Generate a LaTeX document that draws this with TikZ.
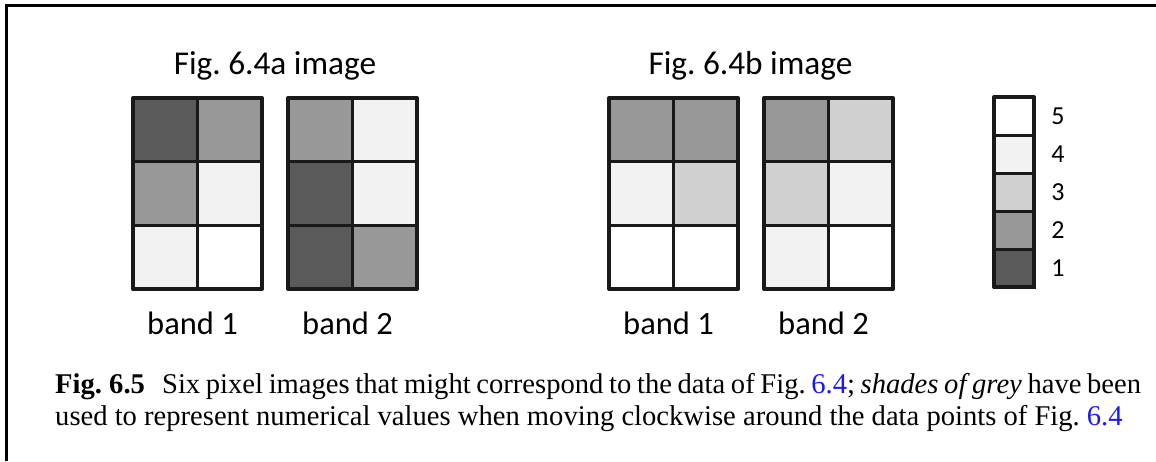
\documentclass[tikz,border=0pt]{standalone}
\usepackage{fontspec}
\setmainfont{Liberation Serif}
\newfontfamily\lblfont{Carlito}
\usepackage{tikz}
\definecolor{shadeA}{HTML}{5A5A5A}
\definecolor{shadeB}{HTML}{989898}
\definecolor{shadeC}{HTML}{CFD0CF}
\definecolor{shadeD}{HTML}{F2F2F2}
\definecolor{shadeE}{HTML}{FFFFFF}
\definecolor{linkblue}{HTML}{1A1AF0}
\frenchspacing

\begin{document}
\begin{tikzpicture}[x=1pt,y=-1pt,
  cell/.style={draw=black!90,line width=3pt},
  frame/.style={draw=black!90,line width=4pt,line join=round},
  title/.style={font=\lblfont\fontsize{33.3}{38}\selectfont,anchor=base},
  band/.style={font=\lblfont\fontsize{32.5}{38}\selectfont,anchor=base},
  value/.style={font=\lblfont\fontsize{26}{30}\selectfont}]
\useasboundingbox (0,0) rectangle (1156,461);
% outline
\draw[line width=3pt] (6,461) -- (6,5) -- (1156,5);
% pixel grids: x offset / row-wise shades
\foreach \gx/\s in {133/{A,B,B,D,D,E}, 288/{B,D,A,D,A,B},
                    609/{B,B,D,C,E,E}, 764/{B,C,C,D,D,E}}{
  \foreach \v [count=\i from 0] in \s {
    \pgfmathtruncatemacro{\c}{mod(\i,2)}
    \pgfmathtruncatemacro{\r}{div(\i,2)}
    \fill[shade\v] (\gx+\c*64.5,98+\r*63.67) rectangle ++(64.5,63.67);
  }
  \draw[cell] (\gx+64.5,98) -- (\gx+64.5,289)
              (\gx,161.67) -- (\gx+129,161.67)
              (\gx,225.33) -- (\gx+129,225.33);
  \draw[frame] (\gx,98) rectangle (\gx+129,289);
}
% legend
\foreach \v/\n [count=\k from 0] in {E/5,D/4,C/3,B/2,A/1}{
  \fill[shade\v] (994,97+\k*38) rectangle ++(40,38);
  \draw[cell] (994,97+\k*38) rectangle ++(40,38);
  \node[value] (val\n) at (1058,116+\k*38) {\n};
}
\draw[frame] (994,97) rectangle (1034,287);
% labels
\node[title] (titleA) at (275,74) {Fig. 6.4a image};
\node[title] (titleB) at (750.5,74) {Fig. 6.4b image};
\node[band] (bandA1) at (192.5,334) {band 1};
\node[band] (bandA2) at (347.5,334) {band 2};
\node[band] (bandB1) at (668.5,334) {band 1};
\node[band] (bandB2) at (823.5,334) {band 2};
% caption
\node[anchor=base west,inner sep=0pt,text width=1086pt,align=justify,
  font=\fontsize{28.6}{32}\selectfont] (caption) at (55,393)
  {\mbox{\textbf{Fig.~6.5}}\hspace{0.6em}Six pixel images that might correspond to the data of Fig.~\textcolor{linkblue}{6.4}; \emph{shades of grey} have been\linebreak
  used to represent numerical values when moving clockwise around the data points of Fig.~\textcolor{linkblue}{6.4}};
\end{tikzpicture}
\end{document}
